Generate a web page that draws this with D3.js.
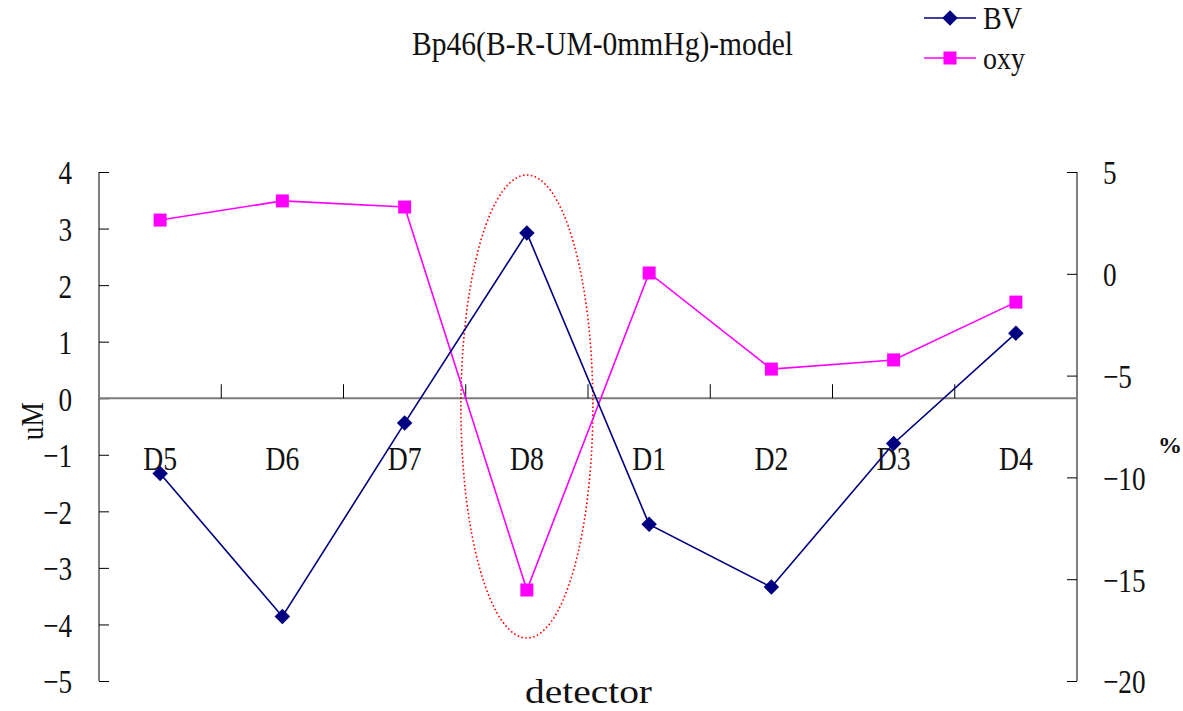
<!DOCTYPE html>
<html>
<head>
<meta charset="utf-8">
<script src="https://cdn.jsdelivr.net/npm/d3@7"></script>
<style>
  body { margin: 0; background: #fff; }
  svg text { font-family: "Liberation Serif", "DejaVu Serif", serif; fill: #111; }
</style>
</head>
<body>
<svg id="chart" width="1183" height="711"></svg>
<script>
// data
const detectors = ["D5", "D6", "D7", "D8", "D1", "D2", "D3", "D4"];
const bv  = [-1.33, -3.86, -0.44, 2.92, -2.23, -3.34, -0.80, 1.15];   // uM, left axis
const oxy = [2.64, 3.58, 3.28, -15.53, 0.04, -4.68, -4.23, -1.39];    // %, right axis
const leftTicks = [4, 3, 2, 1, 0, -1, -2, -3, -4, -5];
const rightTicks = [5, 0, -5, -10, -15, -20];

const svg = d3.select("#chart");
const margin = { top: 172, right: 106, bottom: 30, left: 99 };
const width = 1183 - margin.left - margin.right;
const height = 711 - margin.top - margin.bottom;
const g = svg.append("g").attr("transform", `translate(${margin.left},${margin.top})`);

const x = d3.scaleBand().domain(detectors).range([0, width]);
const yL = d3.scaleLinear().domain([-5, 4]).range([height, 0]);
const yR = d3.scaleLinear().domain([-20, 5]).range([height, 0]);
const cx = d => x(d) + x.bandwidth() / 2;

// the original font is tall and narrow
const squeeze = 0.8;

// left axis
const leftAxis = g.append("g")
  .call(d3.axisRight(yL).tickValues(leftTicks).tickSize(10).tickFormat(d3.format("d")));
leftAxis.select(".domain").attr("d", `M0,0V${height}`).attr("stroke", "#000");
leftAxis.selectAll(".tick line").attr("stroke", "#000");
leftAxis.selectAll(".tick text")
  .attr("text-anchor", "end")
  .attr("x", -27 / squeeze)
  .attr("transform", `scale(${squeeze},1)`)
  .attr("dy", "0.35em")
  .attr("font-size", 34)
  .attr("font-family", "Liberation Serif");

// right axis
const rightAxis = g.append("g")
  .attr("transform", `translate(${width},0)`)
  .call(d3.axisLeft(yR).tickValues(rightTicks).tickSize(10).tickFormat(d3.format("d")));
rightAxis.select(".domain").attr("d", `M0,0V${height}`).attr("stroke", "#000");
rightAxis.selectAll(".tick line").attr("stroke", "#000");
rightAxis.selectAll(".tick text")
  .attr("text-anchor", "start")
  .attr("x", 26 / squeeze)
  .attr("transform", `scale(${squeeze},1)`)
  .attr("dy", "0.35em")
  .attr("font-size", 34)
  .attr("font-family", "Liberation Serif");

// category axis sitting on the zero line
const y0 = yL(0);
g.append("line")
  .attr("x1", 0).attr("x2", width)
  .attr("y1", y0).attr("y2", y0)
  .attr("stroke", "#7a7a7a").attr("stroke-width", 2);

g.selectAll("line.cat-tick")
  .data(detectors.slice(1))
  .enter().append("line")
  .attr("class", "cat-tick")
  .attr("x1", d => x(d)).attr("x2", d => x(d))
  .attr("y1", y0 - 14).attr("y2", y0)
  .attr("stroke", "#000");

g.selectAll("text.cat")
  .data(detectors)
  .enter().append("text")
  .attr("class", "cat")
  .attr("transform", d => `translate(${cx(d)},${y0 + 72}) scale(0.84,1)`)
  .attr("text-anchor", "middle")
  .attr("font-size", 33)
  .text(d => d);

// red dotted ellipse around D8
g.append("ellipse")
  .attr("cx", cx("D8"))
  .attr("cy", 234.5)
  .attr("rx", 66)
  .attr("ry", 231.5)
  .attr("fill", "none")
  .attr("stroke", "#ff0000")
  .attr("stroke-width", 1.6)
  .attr("stroke-dasharray", "1.6 2.4");

// series
const bvRows = detectors.map((d, i) => ({ det: d, v: bv[i] }));
const oxyRows = detectors.map((d, i) => ({ det: d, v: oxy[i] }));

g.append("path")
  .datum(oxyRows)
  .attr("fill", "none")
  .attr("stroke", "#ff00ff")
  .attr("stroke-width", 1.6)
  .attr("d", d3.line().x(d => cx(d.det)).y(d => yR(d.v)));

g.append("path")
  .datum(bvRows)
  .attr("fill", "none")
  .attr("stroke", "#000080")
  .attr("stroke-width", 1.6)
  .attr("d", d3.line().x(d => cx(d.det)).y(d => yL(d.v)));

g.selectAll("rect.oxy")
  .data(oxyRows)
  .enter().append("rect")
  .attr("class", "oxy")
  .attr("x", d => cx(d.det) - 6.5)
  .attr("y", d => yR(d.v) - 6.5)
  .attr("width", 13).attr("height", 13)
  .attr("fill", "#ff00ff");

const diamond = d3.symbol().type(d3.symbolSquare).size(120);
g.selectAll("path.bv")
  .data(bvRows)
  .enter().append("path")
  .attr("class", "bv")
  .attr("transform", d => `translate(${cx(d.det)},${yL(d.v)}) rotate(45)`)
  .attr("d", diamond)
  .attr("fill", "#000080");

// axis titles
svg.append("text")
  .attr("transform", `translate(43,${margin.top + y0 + 23}) rotate(-90)`)
  .attr("text-anchor", "middle")
  .attr("font-size", 32)
  .attr("textLength", 38)
  .attr("lengthAdjust", "spacingAndGlyphs")
  .text("uM");

svg.append("text")
  .attr("x", 1170).attr("y", 453)
  .attr("text-anchor", "middle")
  .attr("font-size", 24)
  .attr("font-weight", "bold")
  .text("%");

svg.append("text")
  .attr("x", 525).attr("y", 703)
  .attr("font-size", 33)
  .attr("textLength", 127)
  .attr("lengthAdjust", "spacingAndGlyphs")
  .text("detector");

// title
svg.append("text")
  .attr("x", 412).attr("y", 55)
  .attr("font-size", 33)
  .attr("textLength", 381)
  .attr("lengthAdjust", "spacingAndGlyphs")
  .text("Bp46(B-R-UM-0mmHg)-model");

// legend
const legendItems = [
  { name: "BV", color: "#000080", shape: "diamond", y: 18, len: 39 },
  { name: "oxy", color: "#ff00ff", shape: "square", y: 58, len: 42 }
];
const legend = svg.append("g").attr("transform", "translate(924,0)");
legendItems.forEach(it => {
  legend.append("line")
    .attr("x1", 0).attr("x2", 52)
    .attr("y1", it.y).attr("y2", it.y)
    .attr("stroke", it.color).attr("stroke-width", 1.6);
  if (it.shape === "diamond") {
    legend.append("path")
      .attr("transform", `translate(26,${it.y}) rotate(45)`)
      .attr("d", diamond)
      .attr("fill", it.color);
  } else {
    legend.append("rect")
      .attr("x", 19.5).attr("y", it.y - 6.5)
      .attr("width", 13).attr("height", 13)
      .attr("fill", it.color);
  }
  legend.append("text")
    .attr("x", 59).attr("y", it.y + 11)
    .attr("font-size", 31)
    .attr("textLength", it.len)
    .attr("lengthAdjust", "spacingAndGlyphs")
    .text(it.name);
});
</script>
</body>
</html>
